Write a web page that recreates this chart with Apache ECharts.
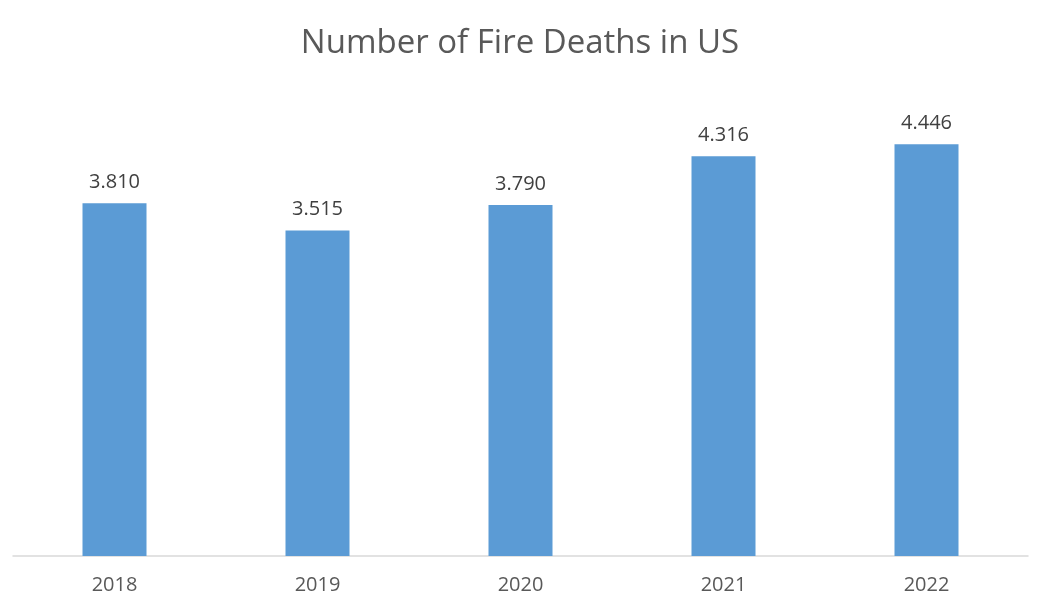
<!DOCTYPE html>
<html><head><meta charset="utf-8">
<script src="https://cdn.jsdelivr.net/npm/echarts@6/dist/echarts.min.js"></script>
<style>html,body{margin:0;padding:0;background:#fff}#c{width:1040px;height:600px}</style>
</head><body><div id="c"></div>
<script>
const titleText = 'Number of Fire Deaths in US';
const categories = ['2018', '2019', '2020', '2021', '2022'];
const deaths = [3810, 3515, 3790, 4316, 4446];

function fmt(v){ return String(v).replace(/\B(?=(\d{3})+(?!\d))/g, '.'); }

const chart = echarts.init(document.getElementById('c'), null, {renderer:'canvas'});
chart.setOption({
  animation:false,
  backgroundColor:'#fff',
  title:{ text:titleText, left:'center', top:22,
    textStyle:{ fontFamily:'Open Sans, Calibri, sans-serif', fontSize:33, fontWeight:'normal', color:'#595959' } },
  grid:{ left:13, right:12, top:93, bottom:44, containLabel:false },
  xAxis:{ type:'category', data:categories,
    axisLine:{ lineStyle:{ color:'#d9d9d9', width:1.5 } },
    axisTick:{ show:false },
    axisLabel:{ color:'#595959', fontSize:20, fontFamily:'Open Sans, Calibri, sans-serif', margin:19 } },
  yAxis:{ type:'value', min:0, max:5000, show:false, splitLine:{show:false} },
  series:[{ type:'bar', data:deaths, barWidth:64,
    itemStyle:{ color:'#5b9bd5' },
    label:{ show:true, position:'top', distance:11, color:'#404040', fontSize:20,
      fontFamily:'Open Sans, Calibri, sans-serif', formatter:p=>fmt(p.value) } }]
});
</script></body></html>
